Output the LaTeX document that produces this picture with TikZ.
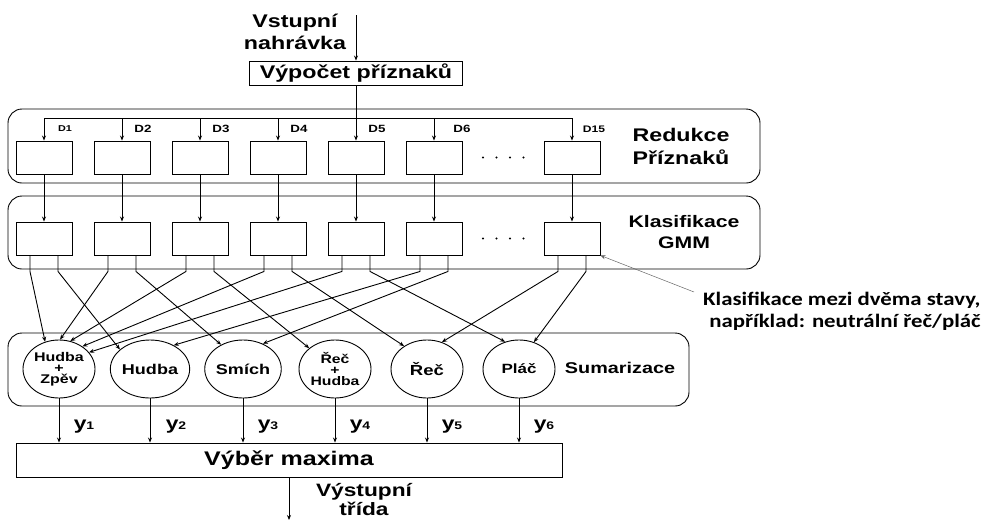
\documentclass[tikz,border=0pt]{standalone}
\usepackage{fontspec}
\setmainfont{Liberation Sans}[FakeStretch=1.27]
\newfontfamily\annfont{Carlito}[FakeStretch=1.2]
\usetikzlibrary{arrows.meta,shapes.geometric,calc}
\newcommand{\fs}[2]{\fontsize{#1}{#2}\selectfont}
\begin{document}
\begin{tikzpicture}[x=1pt,y=-1pt,line width=0.9pt,
  >={Stealth[length=5pt,width=4pt]},
  font=\bfseries,
  grp/.style={draw,rounded corners=14pt,inner sep=0pt},
  sbox/.style={draw,minimum width=56pt,minimum height=33pt,inner sep=0pt},
  ell/.style={draw,ellipse,minimum width=72pt,minimum height=58pt,inner sep=0pt,align=center},
  dlab/.style={inner sep=0pt},
  dotn/.style={circle,fill,inner sep=0pt,minimum size=2.2pt},
  ylab/.style={inner sep=0pt},
  big/.style={align=center,inner sep=0pt}]
\useasboundingbox (0,0) rectangle (988,520);

% groups
\node[grp,minimum width=752pt,minimum height=74pt] (g1) at (384,146) {};
\node[grp,minimum width=752pt,minimum height=73pt] (g2) at (384,232.5) {};
\node[grp,minimum width=681pt,minimum height=73pt] (g3) at (348.5,369.5) {};

% top
\node[big,font=\bfseries\fs{18.3}{22}] (inlab) at (295,32) {Vstupní\\nahrávka};
\coordinate (inp) at (356,15);
\node[draw,minimum width=213pt,minimum height=24pt,inner sep=0pt,font=\bfseries\fs{18.3}{22}] (vp) at (356,73) {Výpočet příznaků};
\draw[->] (inp) -- (vp.north);

% rows of boxes
\foreach \i/\x in {1/44,2/122,3/200,4/278,5/356,6/434,7/572}{
  \node[sbox] (r\i) at (\x,157.5) {};
  \node[sbox] (k\i) at (\x,238.5) {};
  \draw[->] (r\i) -- (k\i);
}
\coordinate (bus) at (0,118);
\draw (r1.north |- bus) -- (r7.north |- bus);
\draw[->] (vp.south) -- (r5.north);
\foreach \i in {1,2,3,4,6,7}{
  \draw[->] (r\i.north |- bus) -- (r\i.north);
}
% D labels
\node[dlab,font=\bfseries\fs{8.5}{10}] (d1) at (65,129) {D1};
\node[dlab,font=\bfseries\fs{10.5}{12}] (d2) at (143,129) {D2};
\node[dlab,font=\bfseries\fs{10.5}{12}] (d3) at (221,129) {D3};
\node[dlab,font=\bfseries\fs{10.5}{12}] (d4) at (299,129) {D4};
\node[dlab,font=\bfseries\fs{10.5}{12}] (d5) at (377,129) {D5};
\node[dlab,font=\bfseries\fs{10.5}{12}] (d6) at (462,129) {D6};
\node[dlab,font=\bfseries\fs{9.5}{11}] (d7) at (594,129) {D15};
% dots
\foreach \j/\x in {1/483,2/496.5,3/510,4/523.5}{
  \node[dotn] (da\j) at (\x,157.5) {};
  \node[dotn] (db\j) at (\x,238.5) {};
}

% group labels
\node[big,font=\bfseries\fs{18.3}{23}] (lr) at (681,146.5) {Redukce\\Příznaků};
\node[big,font=\bfseries\fs{16.7}{21}] (lk) at (684,232.5) {Klasifikace\\GMM};
\node[big,font=\bfseries\fs{15.6}{19}] (ls) at (620,368) {Sumarizace};

% ellipses
\node[ell,font=\bfseries\fs{12.6}{10.8}] (e1) at (59,369) {Hudba\\+\\Zpěv};
\node[ell,font=\bfseries\fs{14.2}{16}] (e2) at (150,369) {Hudba};
\node[ell,font=\bfseries\fs{14.2}{16}] (e3) at (243,369) {Smích};
\node[ell,font=\bfseries\fs{12.4}{10.8}] (e4) at (335,369) {Řeč\\+\\Hudba};
\node[ell,font=\bfseries\fs{14.6}{16}] (e5) at (427,369) {Řeč};
\node[ell,font=\bfseries\fs{13.4}{16}] (e6) at (519,369) {Pláč};

% legs from classifiers to ellipses
\foreach \b/\s/\t in {1/-14/e1.117, 2/-14/e1.88, 3/-14/e1.68, 4/-14/e1.44, 5/-14/e1.29,
                      1/14/e2.147, 6/-14/e2.45,
                      2/14/e3.132, 6/14/e3.52,
                      3/14/e4.141,
                      4/14/e5.135, 7/-14/e5.61,
                      5/14/e6.117, 7/14/e6.61}{
  \draw[->] ($(k\b.south)+(\s,0)$) -- ++(0,16) -- (\t);
}

% output box
\node[draw,minimum width=546pt,minimum height=34pt,inner sep=0pt,font=\bfseries\fs{19.7}{22}] (out) at (289,460) {Výběr maxima};
\foreach \i in {1,...,6}{
  \draw[->] (e\i.south) -- (e\i.south |- out.north);
}
\node[ylab] (y1) at (84,427) {\fs{18}{18}y\fs{11}{11}1};
\node[ylab] (y2) at (176,427) {\fs{18}{18}y\fs{11}{11}2};
\node[ylab] (y3) at (268,427) {\fs{18}{18}y\fs{11}{11}3};
\node[ylab] (y4) at (360,427) {\fs{18}{18}y\fs{11}{11}4};
\node[ylab] (y5) at (452,427) {\fs{18}{18}y\fs{11}{11}5};
\node[ylab] (y6) at (544,427) {\fs{18}{18}y\fs{11}{11}6};

\coordinate (endp) at (289,520);
\draw[->] (out.south) -- (endp);
\node[big,font=\bfseries\fs{17.9}{19}] (outlab) at (364,500) {Výstupní\\třída};

% annotation
\node[align=right,anchor=east,inner sep=0pt,font=\annfont\bfseries\fs{19}{22}] (ann) at (981,311) {Klasifikace mezi dvěma stavy,\\například: neutrální řeč/pláč};
\coordinate (annp) at (694,292);
\draw[->,line width=0.5pt,draw=gray!80!black] (annp) -- (k7.south east);
\end{tikzpicture}
\end{document}
